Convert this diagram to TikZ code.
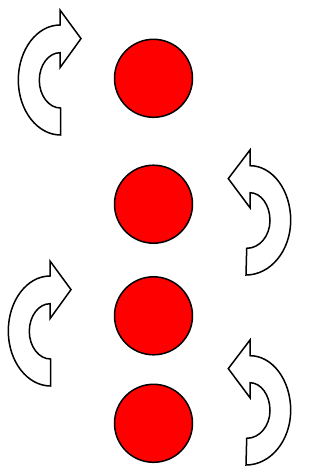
\documentclass[tikz,border=0pt]{standalone}
\begin{document}
\begin{tikzpicture}[x=1pt,y=-1pt,
  ball/.style={circle,draw=black,fill=red,line width=1.5pt,minimum size=78pt,inner sep=0pt},
  arrowshape/.style={draw=black,fill=white,line width=1.5pt,line join=miter},
  rarrow/.pic={
    \path[arrowshape] (60.5,108) -- (60.7,135)
      .. controls (37.3,135) and (18.3,110.4) .. (18.3,80)
      .. controls (18.3,49.6) and (37.0,25) .. (60,25)
      -- (60,10) -- (81,38.6) -- (60,67.7) -- (60,52.7)
      .. controls (48.6,52.7) and (39.3,65.1) .. (39.3,80.3)
      .. controls (39.3,95.6) and (48.9,108) .. (60.5,108) -- cycle;
  },
  larrow/.pic={
    \path[arrowshape] (246.7,248.3) -- (246,275)
      .. controls (270.7,275) and (290.7,250.5) .. (290.7,220.3)
      .. controls (290.7,190.1) and (272.5,165.7) .. (250,165.7)
      -- (250,150) -- (228.3,178.6) -- (250,207.7) -- (250,192.7)
      .. controls (261,192.7) and (270,205.1) .. (270,220.5)
      .. controls (270,235.9) and (259.6,248.3) .. (246.7,248.3) -- cycle;
  }]
\useasboundingbox (0,0) rectangle (329,475);
\node[ball] (c1) at (153.5,78.3) {};
\node[ball] (c2) at (153.5,204.2) {};
\node[ball] (c3) at (153.5,315.8) {};
\node[ball] (c4) at (153.5,423.3) {};
\pic at (0,0) {rarrow};
\pic at (-10,251) {rarrow};
\pic at (0,0) {larrow};
\pic at (0,190) {larrow};
\end{tikzpicture}
\end{document}
